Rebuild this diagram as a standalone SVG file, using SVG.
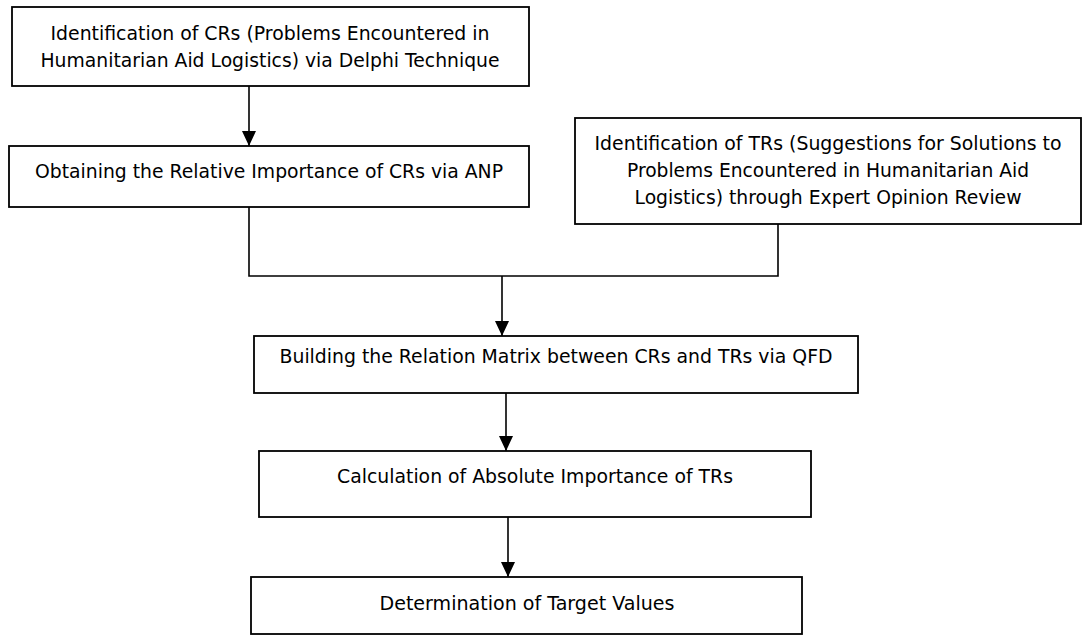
<svg xmlns="http://www.w3.org/2000/svg" width="1083" height="636" viewBox="0 0 1083 636">
<style>
.box{fill:#fff;stroke:#000;stroke-width:1.8}
.t{font-family:"DejaVu Sans","Liberation Sans",sans-serif;font-size:20px;fill:#000;text-anchor:middle}
.c{fill:none;stroke:#000;stroke-width:1.6}
</style>
<defs>
<marker id="ah" viewBox="0 0 15 14" refX="15" refY="7" markerWidth="15" markerHeight="14" markerUnits="userSpaceOnUse" orient="auto">
<path d="M0,0 L15,7 L0,14 z" fill="#000"/>
</marker>
</defs>
<rect width="1083" height="636" fill="#fff"/>
<g id="connectors">
<line class="c" x1="249" y1="86" x2="249" y2="146" marker-end="url(#ah)"/>
<polyline class="c" points="249,207 249,276 778,276 778,224"/>
<line class="c" x1="502" y1="276" x2="502" y2="336" marker-end="url(#ah)"/>
<line class="c" x1="506" y1="393" x2="506" y2="451" marker-end="url(#ah)"/>
<line class="c" x1="508" y1="517" x2="508" y2="577" marker-end="url(#ah)"/>
</g>
<g id="n1">
<rect class="box" x="12" y="7" width="517" height="79"/>
<text class="t" x="270" y="40" textLength="439" lengthAdjust="spacingAndGlyphs">Identification of CRs (Problems Encountered in</text>
<text class="t" x="270" y="67" textLength="459" lengthAdjust="spacingAndGlyphs">Humanitarian Aid Logistics) via Delphi Technique</text>
</g>
<g id="n2">
<rect class="box" x="9" y="146" width="520" height="61"/>
<text class="t" x="269" y="178" textLength="468" lengthAdjust="spacingAndGlyphs">Obtaining the Relative Importance of CRs via ANP</text>
</g>
<g id="n3">
<rect class="box" x="575" y="118" width="506" height="106"/>
<text class="t" x="828" y="150" textLength="467" lengthAdjust="spacingAndGlyphs">Identification of TRs (Suggestions for Solutions to</text>
<text class="t" x="828" y="177" textLength="402" lengthAdjust="spacingAndGlyphs">Problems Encountered in Humanitarian Aid</text>
<text class="t" x="828" y="204" textLength="387" lengthAdjust="spacingAndGlyphs">Logistics) through Expert Opinion Review</text>
</g>
<g id="n4">
<rect class="box" x="254" y="336" width="604" height="57"/>
<text class="t" x="556" y="363" textLength="553" lengthAdjust="spacingAndGlyphs">Building the Relation Matrix between CRs and TRs via QFD</text>
</g>
<g id="n5">
<rect class="box" x="259" y="451" width="552" height="66"/>
<text class="t" x="535" y="483" textLength="396" lengthAdjust="spacingAndGlyphs">Calculation of Absolute Importance of TRs</text>
</g>
<g id="n6">
<rect class="box" x="251" y="577" width="551" height="57"/>
<text class="t" x="527" y="610" textLength="295" lengthAdjust="spacingAndGlyphs">Determination of Target Values</text>
</g>
</svg>
